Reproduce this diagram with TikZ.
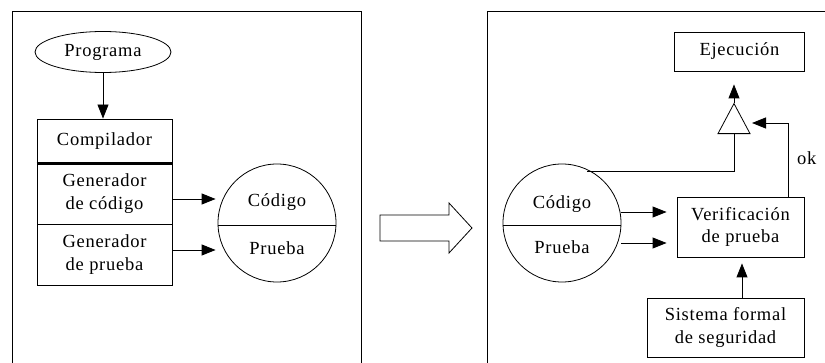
\documentclass[tikz,border=0pt]{standalone}
\usepackage{fontspec}
\setmainfont[LetterSpace=4]{Liberation Serif}
\usetikzlibrary{shapes.geometric,arrows.meta}
\begin{document}
\begin{tikzpicture}[x=1pt,y=-1pt,
  every node/.style={font=\fontsize{18.5}{22.5}\selectfont, inner sep=0pt},
  box/.style={draw, line width=0.9pt, rectangle, align=center},
  conn/.style={line width=0.9pt},
  arr/.style={conn, -{Triangle[length=14pt,width=11pt]}},
  frame/.style={line width=1pt}]
\useasboundingbox (0,0) rectangle (825,363);
% panels
\draw[frame] (12,363) -- (12,12) -- (361,12) -- (361,363);
\draw[frame] (487,363) -- (487,12) -- (825,12);
% left panel
\node[draw, ellipse, line width=0.8pt, minimum width=136pt, minimum height=41pt] (prog) at (103,52) {Programa};
\node[box, minimum width=135pt, minimum height=44pt] (comp) at (104.5,141) {Compilador};
\node[box, minimum width=135pt, minimum height=61pt] (gcod) at (104.5,193.5) {Generador\\de código};
\node[box, minimum width=135pt, minimum height=61pt] (gpru) at (104.5,254.5) {Generador\\de prueba};
\draw[line width=2.2pt] (comp.south west) -- (comp.south east);
\node[draw, circle, line width=0.8pt, minimum size=118pt] (circL) at (277,223) {};
\draw[conn] (circL.west |- 0,225) -- (circL.east |- 0,225);
\node (codL) at (277,202) {Código};
\node (pruL) at (277,248) {Prueba};
\draw[arr] (prog.south) -- (comp.north -| prog.south) ;
\draw[arr] (gcod.east |- 0,199) -- ([xshift=-2pt]circL.west |- 0,199);
\draw[arr] (gpru.east |- 0,250) -- ([xshift=-2pt]circL.west |- 0,250);
% big hollow arrow
\draw[line width=0.8pt] (380,215) -- (449,215) -- (449,203) -- (472,228) -- (449,253) -- (449,241) -- (380,241) -- cycle;
% right panel
\node[box, minimum width=130pt, minimum height=39pt] (eje) at (739.5,51.5) {Ejecución};
\node[draw, isosceles triangle, isosceles triangle apex angle=56, shape border rotate=90, line width=0.8pt, minimum height=30pt, minimum width=32pt, inner sep=0pt] (tri) at (734,124) {};
\node[draw, circle, line width=0.8pt, minimum size=118pt] (circR) at (562,223) {};
\draw[conn] (circR.west |- 0,225) -- (circR.east |- 0,225);
\node (codR) at (562,204) {Código};
\node (pruR) at (562,247) {Prueba};
\node[box, minimum width=127pt, minimum height=60pt] (ver) at (740.5,227) {Verificación\\de prueba};
\node[box, minimum width=157pt, minimum height=59pt] (sis) at (725.5,327.5) {Sistema formal\\de seguridad};
\coordinate (okc) at (788,123);
\node[anchor=west] (ok) at (797,158) {ok};
\draw[arr] (tri.apex) -- ([yshift=-13pt]eje.south -| tri.apex);
\draw[conn] (tri.south) -- (tri.south |- 0,171) -- (587,171);
\draw[arr] (circR.east |- 0,212) -- ([xshift=-10pt]ver.west |- 0,212);
\draw[arr] (circR.east |- 0,243) -- ([xshift=-10pt]ver.west |- 0,243);
\draw[arr] (ver.north -| okc) -- (okc) -- (752,123);
\draw[arr] (sis.north -| 742,0) -- ([yshift=-6pt]ver.south -| 742,0);
\end{tikzpicture}
\end{document}
